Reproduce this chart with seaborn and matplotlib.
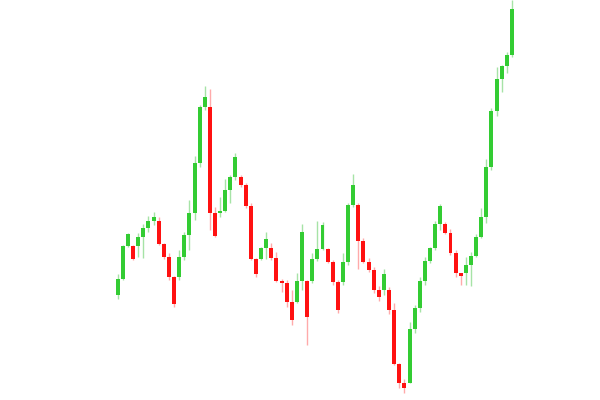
import numpy as np
import pandas as pd
import matplotlib
matplotlib.use("Agg")
import matplotlib.pyplot as plt
import seaborn as sns

# OHLC values (arbitrary price units)
open_ = [105.0, 121.0, 154.0, 154.0, 154.0, 162.7, 171.7, 179.3, 179.3, 155.7,
         142.7, 122.7, 122.7, 143.3, 165.0, 187.3, 236.7, 292.7, 292.7, 186.7,
         186.7, 189.3, 210.0, 223.3, 223.3, 214.7, 194.3, 141.0, 141.0, 152.3,
         152.3, 141.7, 119.3, 117.3, 98.3, 98.3, 119.0, 119.0, 119.0, 140.7,
         150.7, 150.7, 138.3, 118.3, 118.3, 138.3, 195.0, 195.0, 159.0, 138.3,
         130.0, 110.0, 110.0, 110.0, 90.0, 36.0, 17.3, 17.3, 70.7, 91.7,
         119.0, 139.0, 151.7, 176.0, 176.0, 167.3, 147.5, 126.7, 126.7, 135.0,
         144.3, 163.3, 183.3, 232.7, 289.0, 321.3, 334.0, 345.0]
high = [126.0, 155.0, 166.7, 154.7, 166.7, 176.0, 184.3, 188.3, 183.0, 157.0,
        147.0, 124.0, 150.0, 168.3, 200.0, 244.0, 295.0, 314.0, 310.7, 193.3,
        203.3, 220.7, 225.0, 247.3, 225.0, 216.7, 196.7, 141.7, 153.3, 168.3,
        156.7, 148.3, 120.7, 120.0, 110.0, 126.7, 176.0, 120.0, 147.3, 179.0,
        178.3, 151.7, 140.0, 120.0, 146.7, 196.7, 226.0, 196.7, 161.7, 142.3,
        133.3, 114.0, 130.7, 112.7, 96.7, 36.7, 20.7, 78.3, 95.0, 123.3,
        142.7, 153.3, 179.3, 196.0, 178.3, 171.0, 150.0, 127.3, 142.7, 148.3,
        165.7, 191.7, 241.0, 291.7, 333.3, 335.0, 348.3, 400.0]
low = [100.7, 120.0, 153.3, 140.0, 143.0, 142.0, 168.3, 175.0, 155.0, 141.5,
       120.0, 93.3, 120.0, 140.0, 150.0, 180.0, 233.3, 290.0, 170.0, 163.3,
       183.3, 188.3, 196.7, 220.0, 213.3, 191.7, 140.0, 123.3, 140.0, 141.0,
       140.0, 118.3, 108.0, 93.3, 75.0, 96.7, 110.0, 55.0, 116.7, 139.3,
       150.0, 136.7, 115.0, 87.3, 115.0, 135.0, 193.3, 130.7, 136.7, 128.3,
       106.7, 99.5, 105.0, 86.0, 35.0, 11.7, 7.3, 16.7, 67.3, 88.3,
       115.0, 136.7, 150.0, 170.0, 165.7, 145.0, 123.3, 115.0, 115.0, 114.0,
       143.3, 161.7, 176.7, 230.0, 284.0, 308.3, 326.7, 343.3]
close = [121.3, 154.0, 165.7, 141.0, 162.7, 171.7, 179.3, 182.7, 156.0, 142.7,
         122.7, 96.0, 143.3, 165.0, 187.3, 236.7, 292.7, 302.7, 186.7, 164.3,
         189.3, 210.0, 223.3, 243.3, 214.7, 194.3, 141.0, 126.0, 152.3, 161.0,
         141.7, 119.3, 117.3, 98.3, 80.0, 119.0, 167.7, 83.3, 140.7, 150.7,
         175.0, 138.3, 118.3, 90.0, 138.3, 195.0, 215.0, 159.0, 138.3, 130.0,
         110.0, 103.3, 126.0, 90.0, 36.0, 17.3, 11.7, 70.7, 91.7, 119.0,
         139.0, 151.7, 176.0, 194.3, 167.3, 147.5, 126.7, 124.5, 135.0, 144.3,
         163.3, 183.3, 232.7, 289.0, 321.3, 334.0, 345.0, 390.7]

df = pd.DataFrame({"open": open_, "high": high, "low": low, "close": close})
df["t"] = np.arange(len(df))
df["up"] = df["close"] >= df["open"]

sns.set_style("white")
fig = plt.figure(figsize=(6, 4), dpi=100)
ax = fig.add_axes([0, 0, 1, 1])

green, red = "#33cc33", "#ff1111"
green_wick, red_wick = "#a6e3a6", "#ffaaaa"

# wicks
ax.vlines(df["t"], df["low"], df["high"],
          colors=np.where(df["up"], green_wick, red_wick), linewidth=1, zorder=1)

# bodies
body_bottom = df[["open", "close"]].min(axis=1)
body_height = (df["close"] - df["open"]).abs().clip(lower=1.2)
ax.bar(df["t"], body_height, bottom=body_bottom, width=0.78,
       color=np.where(df["up"], green, red), linewidth=0, zorder=2)

ax.set_xlim(-22.99, 94.2)
ax.set_ylim(0, 400)
ax.axis("off")
sns.despine(ax=ax, left=True, bottom=True)

fig.savefig("out.png", dpi=100, facecolor="white")
